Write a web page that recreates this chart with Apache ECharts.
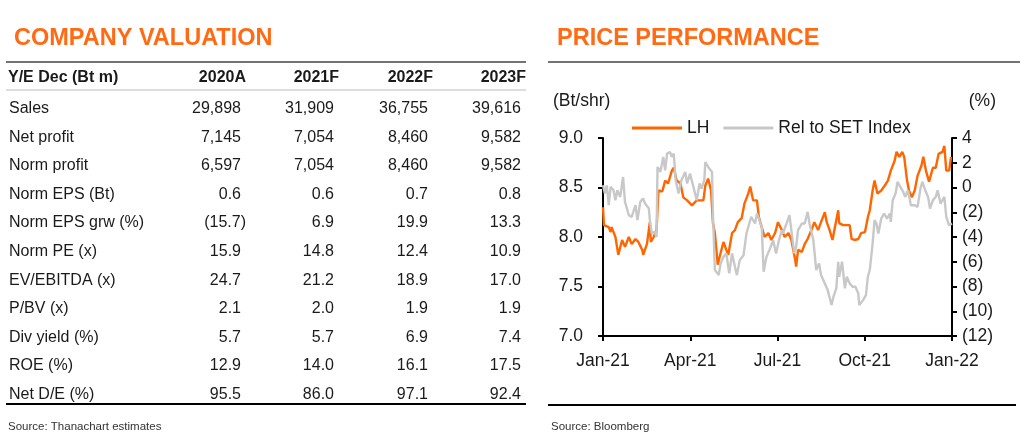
<!DOCTYPE html>
<html lang="en">

<head>
  <meta charset="UTF-8">
  <title>LH valuation and price performance</title>
  <script src="https://cdn.jsdelivr.net/npm/echarts@6.0.0/dist/echarts.min.js"></script>
  <style>
    html, body { margin: 0; padding: 0; background: #fff; }
  </style>
</head>

<body>
  <div id="main" style="width: 1024px; height: 435px;"></div>
  <script type="text/javascript">
    // ---- table data ----
    var years = ['2020A', '2021F', '2022F', '2023F'];
    var rowNames = ['Sales', 'Net profit', 'Norm profit', 'Norm EPS (Bt)', 'Norm EPS grw (%)', 'Norm PE (x)',
      'EV/EBITDA (x)', 'P/BV (x)', 'Div yield (%)', 'ROE (%)', 'Net D/E (%)'];
    var sales = [29898, 31909, 36755, 39616];
    var netProfit = [7145, 7054, 8460, 9582];
    var normProfit = [6597, 7054, 8460, 9582];
    var normEps = [0.6, 0.6, 0.7, 0.8];
    var normEpsGrw = [-15.7, 6.9, 19.9, 13.3];
    var normPe = [15.9, 14.8, 12.4, 10.9];
    var evEbitda = [24.7, 21.2, 18.9, 17.0];
    var pbv = [2.1, 2.0, 1.9, 1.9];
    var divYield = [5.7, 5.7, 6.9, 7.4];
    var roe = [12.9, 14.0, 16.1, 17.5];
    var netDe = [95.5, 86.0, 97.1, 92.4];
    var rowValues = [sales, netProfit, normProfit, normEps, normEpsGrw, normPe, evEbitda, pbv, divYield, roe, netDe];
    var rowDecimals = [0, 0, 0, 1, 1, 1, 1, 1, 1, 1, 1];

    // ---- price chart data (x = days since 1 Jan 2021) ----
    var tickLabels = ['Jan-21', 'Apr-21', 'Jul-21', 'Oct-21', 'Jan-22'];
    var lhDays = [0, 1, 2, 6, 8, 9, 13, 16, 20, 23, 27, 30, 34, 37, 41, 42, 46, 49, 50, 53, 56, 58, 62, 65, 68, 72, 74,
      77, 81, 84, 88, 93, 98, 105, 107, 110, 113, 115, 117, 120, 122, 126, 129, 131, 135, 138, 141, 145, 148, 152,
      154, 157, 161, 163, 166, 169, 173, 176, 180, 183, 187, 190, 194, 197, 201, 202, 204, 208, 211, 214, 218, 221,
      225, 228, 232, 234, 237, 240, 242, 246, 247, 251, 254, 258, 260, 263, 267, 270, 274, 277, 279, 282, 284, 287,
      291, 294, 298, 301, 305, 307, 310, 313, 315, 318, 320, 323, 326, 329, 333, 335, 338, 341, 343, 345, 348, 351,
      355, 357, 359, 362, 364];
    var lhPrice = [8.30, 8.12, 8.10, 8.10, 8.05, 8.10, 8.00, 7.82, 7.97, 7.90, 8.00, 7.93, 7.98, 7.95, 7.87, 7.82, 7.93,
      8.15, 7.95, 8.00, 8.07, 8.47, 8.46, 8.57, 8.54, 8.67, 8.70, 8.57, 8.54, 8.40, 8.37, 8.32, 8.37, 8.37, 8.52, 8.59,
      8.47, 8.14, 8.04, 7.72, 7.80, 7.95, 7.87, 7.82, 8.04, 8.07, 8.15, 8.19, 8.34, 8.44, 8.51, 8.37, 8.37, 8.20, 8.10,
      8.00, 8.04, 7.97, 8.04, 8.15, 8.07, 8.00, 8.04, 7.97, 7.77, 7.70, 7.87, 7.85, 7.93, 7.98, 8.07, 8.15, 8.07, 8.15,
      8.25, 8.15, 8.07, 7.97, 8.07, 8.27, 8.14, 8.12, 8.12, 8.12, 7.98, 7.97, 7.98, 8.04, 8.05, 8.20, 8.27, 8.47, 8.57,
      8.44, 8.47, 8.51, 8.57, 8.67, 8.77, 8.86, 8.81, 8.86, 8.81, 8.57, 8.47, 8.40, 8.47, 8.62, 8.72, 8.81, 8.66, 8.56,
      8.57, 8.70, 8.70, 8.84, 8.86, 8.92, 8.67, 8.67, 8.81];
    var relDays = [0, 2, 4, 6, 8, 11, 13, 15, 18, 21, 23, 27, 30, 34, 36, 39, 42, 44, 48, 49, 51, 54, 56, 57, 60, 63, 65,
      67, 70, 72, 74, 76, 79, 82, 86, 88, 91, 95, 98, 101, 103, 106, 107, 110, 114, 115, 117, 121, 123, 126, 129, 132,
      135, 138, 140, 143, 147, 150, 153, 155, 159, 161, 163, 166, 168, 171, 174, 178, 181, 184, 187, 188, 192, 195,
      197, 200, 202, 204, 208, 211, 214, 216, 220, 223, 226, 228, 232, 235, 239, 241, 244, 246, 247, 250, 253, 255,
      258, 261, 264, 267, 268, 272, 275, 277, 279, 282, 284, 286, 288, 291, 294, 297, 300, 301, 303, 306, 308, 311,
      314, 316, 319, 322, 326, 329, 332, 334, 337, 340, 342, 345, 348, 350, 353, 357, 359, 362, 365];
    var relPct = [0.18, -0.49, 0.18, -1.43, 0.05, -0.22, -1.03, -0.22, -0.76, 0.85, -1.16, -2.24, -2.37, -1.43, -2.64,
      -1.16, -0.89, -1.30, -1.70, -2.64, -3.72, -3.58, -3.99, 1.66, 1.26, 2.47, 1.39, 2.74, 2.87, 2.47, 2.74, 0.59,
      -0.49, 0.59, 1.26, 0.32, 1.12, -0.09, -1.03, 0.32, -0.09, 0.59, 2.06, 1.66, 1.26, -2.10, -6.67, -7.08, -6.14,
      -5.60, -5.33, -6.94, -5.33, -6.41, -7.08, -5.87, -5.47, -3.72, -2.91, -2.37, -2.91, -2.10, -2.51, -3.18, -6.81,
      -5.60, -5.06, -4.26, -5.33, -4.26, -3.45, -3.72, -2.91, -2.24, -3.45, -5.33, -4.79, -3.45, -2.91, -2.91, -1.97,
      -2.91, -4.26, -6.67, -6.14, -7.08, -7.75, -8.29, -9.50, -8.83, -8.15, -6.00, -7.21, -6.00, -8.15, -7.21, -7.75,
      -8.02, -8.02, -8.56, -9.50, -9.10, -8.69, -7.21, -6.67, -4.52, -2.64, -2.91, -3.72, -2.51, -2.10, -2.51, -2.10,
      -2.78, -1.03, -0.49, 0.45, 0.05, -0.36, -0.76, -0.22, -1.43, -1.43, -1.57, -0.09, 0.45, -0.22, -0.76, -1.70,
      -1.03, -0.76, -0.22, -1.30, -0.76, -2.37, -3.05, -2.91];

    var ORANGE = '#FF6A13';
    var TEXT = '#1a1a1a';
    var FONT = '"Liberation Sans", Arial, sans-serif';

    function fmt(v, d) {
      var s = Math.abs(v).toLocaleString('en-US', { minimumFractionDigits: d, maximumFractionDigits: d });
      return v < 0 ? '(' + s + ')' : s;
    }

    function pair(xs, ys) {
      return xs.map(function (x, i) { return [x, ys[i]]; });
    }

    // table built as graphic elements
    var colRight = [246, 339, 433, 526];
    var rowTop = 108.5, rowStep = 28.6;
    var g = [];
    g.push({ type: 'line', shape: { x1: 6, y1: 62, x2: 526, y2: 62 }, style: { stroke: '#444', lineWidth: 1.5 } });
    g.push({ type: 'line', shape: { x1: 6, y1: 90, x2: 526, y2: 90 }, style: { stroke: '#bbb', lineWidth: 1 } });
    g.push({ type: 'line', shape: { x1: 6, y1: 404, x2: 526, y2: 404 }, style: { stroke: '#000', lineWidth: 2 } });
    g.push({ type: 'line', shape: { x1: 548, y1: 62, x2: 1020, y2: 62 }, style: { stroke: '#444', lineWidth: 1.5 } });
    g.push({ type: 'line', shape: { x1: 548, y1: 405, x2: 1016, y2: 405 }, style: { stroke: '#000', lineWidth: 2 } });
    g.push({ type: 'text', x: 8, y: 78, style: { text: 'Y/E Dec (Bt m)', font: 'bold 16px ' + FONT, fill: TEXT, verticalAlign: 'middle' } });
    years.forEach(function (y, j) {
      g.push({ type: 'text', x: colRight[j], y: 78, style: { text: y, font: 'bold 16px ' + FONT, fill: TEXT, align: 'right', verticalAlign: 'middle' } });
    });
    rowNames.forEach(function (name, i) {
      var yy = rowTop + i * rowStep;
      g.push({ type: 'text', x: 9, y: yy, style: { text: name, font: '16px ' + FONT, fill: TEXT, verticalAlign: 'middle' } });
      rowValues[i].forEach(function (v, j) {
        g.push({ type: 'text', x: v < 0 ? colRight[j] : colRight[j] - 5, y: yy,
          style: { text: fmt(v, rowDecimals[i]), font: '16px ' + FONT, fill: TEXT, align: 'right', verticalAlign: 'middle' } });
      });
    });
    g.push({ type: 'text', x: 8, y: 427, style: { text: 'Source: Thanachart estimates', font: '11.5px ' + FONT, fill: '#333', verticalAlign: 'middle' } });
    g.push({ type: 'text', x: 551, y: 427, style: { text: 'Source: Bloomberg', font: '11.5px ' + FONT, fill: '#333', verticalAlign: 'middle' } });
    g.push({ type: 'text', x: 553, y: 101, style: { text: '(Bt/shr)', font: '17.5px ' + FONT, fill: TEXT, verticalAlign: 'middle' } });
    g.push({ type: 'text', x: 996, y: 101, style: { text: '(%)', font: '17.5px ' + FONT, fill: TEXT, align: 'right', verticalAlign: 'middle' } });

    var myChart = echarts.init(document.getElementById('main'));

    var axisText = { color: TEXT, fontSize: 17.5, fontFamily: FONT };
    var axisLineBlack = { show: true, onZero: false, lineStyle: { color: '#000', width: 2 } };

    var option = {
      animation: false,
      textStyle: { fontFamily: FONT },
      title: [
        { text: 'COMPANY VALUATION', left: 9, top: 22, textStyle: { color: ORANGE, fontSize: 23.5, fontWeight: 'bold', fontFamily: FONT } },
        { text: 'PRICE PERFORMANCE', left: 552, top: 22, textStyle: { color: ORANGE, fontSize: 23.5, fontWeight: 'bold', fontFamily: FONT } }
      ],
      legend: {
        left: 627, top: 114,
        itemWidth: 50, itemHeight: 3, itemGap: 14,
        icon: 'rect',
        textStyle: { color: TEXT, fontSize: 17.5, fontFamily: FONT },
        data: ['LH', 'Rel to SET Index']
      },
      grid: { left: 603, right: 72, top: 138, height: 198, containLabel: false },
      xAxis: {
        type: 'value', min: 0, max: 365, interval: 91.25,
        axisLine: axisLineBlack,
        axisTick: { show: true, length: 5, lineStyle: { color: '#000', width: 2 } },
        axisLabel: Object.assign({ margin: 16, formatter: function (v) { return tickLabels[Math.round(v / 91.25)]; } }, axisText),
        splitLine: { show: false }
      },
      yAxis: [
        {
          type: 'value', min: 7, max: 9, interval: 0.5,
          axisLine: axisLineBlack,
          axisTick: { show: true, length: 5, lineStyle: { color: '#000', width: 2 } },
          axisLabel: Object.assign({ margin: 20, formatter: function (v) { return v.toFixed(1); } }, axisText),
          splitLine: { show: false }
        },
        {
          type: 'value', min: -12, max: 4, interval: 2, position: 'right',
          axisLine: axisLineBlack,
          axisTick: { show: true, length: 5, lineStyle: { color: '#000', width: 2 } },
          axisLabel: Object.assign({ margin: 10, formatter: function (v) { return v < 0 ? '(' + (-v) + ')' : String(v); } }, axisText),
          splitLine: { show: false }
        }
      ],
      series: [
        {
          name: 'LH', type: 'line', data: pair(lhDays, lhPrice), yAxisIndex: 0,
          showSymbol: false, symbol: 'none',
          itemStyle: { color: '#FF6600' },
          lineStyle: { color: '#FF6600', width: 2.4 }
        },
        {
          name: 'Rel to SET Index', type: 'line', data: pair(relDays, relPct), yAxisIndex: 1,
          showSymbol: false, symbol: 'none',
          itemStyle: { color: '#C8C8C8' },
          lineStyle: { color: '#C8C8C8', width: 2.4 }
        }
      ],
      graphic: g
    };

    myChart.setOption(option);
  </script>
</body>

</html>
